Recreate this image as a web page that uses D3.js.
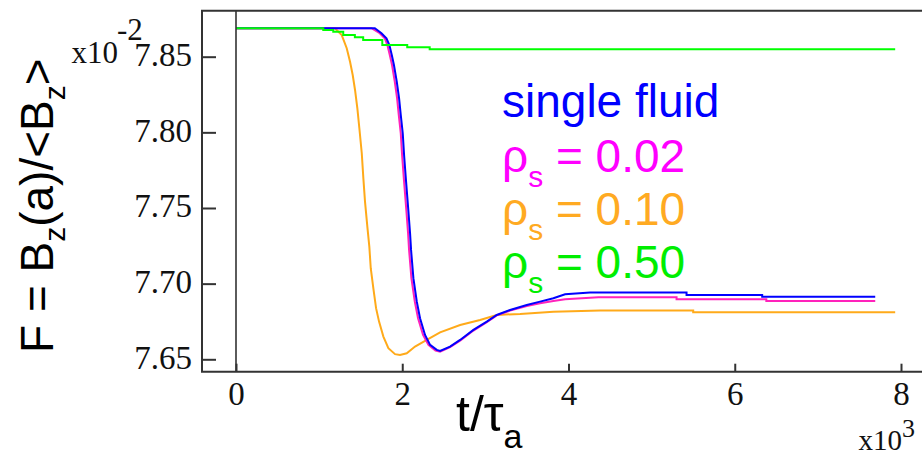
<!DOCTYPE html>
<html>
<head>
<meta charset="utf-8">
<script src="https://cdn.jsdelivr.net/npm/d3@7/dist/d3.min.js"></script>
<style>
  html, body { margin: 0; padding: 0; background: #fff; }
  svg { display: block; }
</style>
</head>
<body>
<svg id="chart" width="922" height="457"></svg>
<script>
// Time axis in units of 10^3 tau_a, flux ratio F in units of 10^-2
const xTicks = [0, 2, 4, 6, 8];
const yTicks = [7.65, 7.70, 7.75, 7.80, 7.85];

// single fluid
const tSingle = [0, 1.67, 1.75, 1.81, 1.845, 1.874, 1.90, 1.934, 1.962, 1.982,
  2.006, 2.022, 2.046, 2.073, 2.094, 2.106, 2.134, 2.175, 2.214, 2.274,
  2.335, 2.415, 2.455, 2.575, 2.696, 2.856, 3.017, 3.137, 3.297, 3.498,
  3.658, 3.818, 3.959, 4.26, 5.42, 5.42, 6.33, 6.33, 7.69];
const fSingle = [7.8688, 7.8688, 7.8655, 7.8622, 7.8577, 7.8511, 7.8445, 7.8335, 7.8225, 7.8115,
  7.7994, 7.7850, 7.7674, 7.7487, 7.7333, 7.7223, 7.7036, 7.6881, 7.6771, 7.6661,
  7.6595, 7.6562, 7.6555, 7.6584, 7.6628, 7.6694, 7.6749, 7.6793, 7.6826, 7.6859,
  7.6881, 7.6904, 7.6930, 7.6941, 7.6941, 7.6925, 7.6925, 7.6914, 7.6914];

// rho_s = 0.02
const tRho002 = [0, 1.63, 1.729, 1.789, 1.821, 1.850, 1.877, 1.910, 1.938, 1.958,
  1.982, 1.998, 2.022, 2.049, 2.070, 2.082, 2.110, 2.151, 2.190, 2.250,
  2.315, 2.40, 2.455, 2.575, 2.70, 2.856, 3.017, 3.137, 3.297, 3.498,
  3.658, 3.818, 3.96, 4.36, 5.30, 5.30, 6.38, 6.38, 7.69];
const fRho002 = [7.8688, 7.8688, 7.8655, 7.8622, 7.8577, 7.8511, 7.8445, 7.8335, 7.8225, 7.8115,
  7.7994, 7.7850, 7.7674, 7.7487, 7.7333, 7.7223, 7.7036, 7.6881, 7.6771, 7.6661,
  7.6595, 7.6558, 7.6550, 7.6580, 7.6625, 7.6690, 7.6745, 7.6790, 7.6822, 7.6852,
  7.6870, 7.6885, 7.6897, 7.6910, 7.6910, 7.6897, 7.6897, 7.6886, 7.6886];

// rho_s = 0.10
const tRho010 = [0, 1.19, 1.272, 1.332, 1.372, 1.404, 1.432, 1.460, 1.484, 1.513,
  1.532, 1.552, 1.580, 1.604, 1.621, 1.652, 1.685, 1.721, 1.773, 1.833,
  1.913, 1.973, 2.054, 2.154, 2.295, 2.455, 2.696, 2.936, 3.137, 3.418,
  3.818, 4.38, 5.50, 5.50, 7.93];
const fRho010 = [7.8688, 7.8688, 7.8643, 7.8556, 7.8467, 7.8379, 7.8280, 7.8159, 7.8027, 7.7862,
  7.7697, 7.7542, 7.7377, 7.7245, 7.7102, 7.6970, 7.6838, 7.6749, 7.6650, 7.6573,
  7.6534, 7.6529, 7.6540, 7.6584, 7.6628, 7.6678, 7.6727, 7.6760, 7.6793, 7.6800,
  7.6815, 7.6823, 7.6823, 7.6811, 7.6811];

// rho_s = 0.50 (stepwise)
const tRho050 = [0, 1.05, 1.17, 1.29, 1.43, 1.53, 1.76, 2.06, 2.33, 7.93];
const fRho050 = [7.8688, 7.8677, 7.8665, 7.8643, 7.8628, 7.8610, 7.8577, 7.8562, 7.8549, 7.8549];

const seriesNames = ["single fluid", "0.02", "0.10", "0.50"];
const curveColors = ["#0000ff", "#ff22bb", "#ffaa1a", "#00ff00"];
const textColors = ["#0000ff", "#ff00ff", "#ffaa22", "#00ee00"];

const svg = d3.select("#chart");

const x = d3.scaleLinear().domain([0, 8]).range([236, 901]);
const y = d3.scaleLinear().domain([7.6418, 7.8804]).range([371.7, 10.7]);

const frameLeft = 202, frameTop = 10.7, frameBottom = 371.7, frameRight = 940;

// Curves
const line = d3.line().x(d => x(d[0])).y(d => y(d[1]));
const stepLine = d3.line().x(d => x(d[0])).y(d => y(d[1])).curve(d3.curveStepAfter);

const zipSeries = (t, f) => t.map((v, i) => [v, f[i]]);
const series = [
  { data: zipSeries(tRho010, fRho010), color: curveColors[2], gen: line },
  { data: zipSeries(tRho002, fRho002), color: curveColors[1], gen: line },
  { data: zipSeries(tSingle, fSingle), color: curveColors[0], gen: line },
  { data: zipSeries(tRho050, fRho050), color: curveColors[3], gen: stepLine }
];

svg.append("g").selectAll("path").data(series).join("path")
  .attr("d", d => d.gen(d.data))
  .attr("fill", "none")
  .attr("stroke", d => d.color)
  .attr("stroke-width", 2)
  .attr("stroke-linejoin", "miter");

// Zero line
svg.append("line")
  .attr("x1", x(0)).attr("x2", x(0))
  .attr("y1", frameTop).attr("y2", frameBottom)
  .attr("stroke", "#333").attr("stroke-width", 1.6);

// Frame
svg.append("path")
  .attr("d", `M${frameRight},${frameTop}H${frameLeft}V${frameBottom}H${frameRight}`)
  .attr("fill", "none").attr("stroke", "#333").attr("stroke-width", 2);

// Axes
const tickFont = "'Liberation Serif', 'Times New Roman', serif";

const yAxis = d3.axisLeft(y).tickValues(yTicks).tickFormat(d3.format(".2f"))
  .tickSizeInner(-14).tickSizeOuter(0).tickPadding(10);
const gy = svg.append("g").attr("transform", `translate(${frameLeft},0)`).call(yAxis);
gy.select(".domain").remove();
gy.selectAll(".tick line").attr("stroke", "#333").attr("stroke-width", 2);
gy.selectAll(".tick text").attr("font-family", tickFont).attr("font-size", 33)
  .attr("fill", "#111").attr("dy", "0.27em");

const xAxis = d3.axisBottom(x).tickValues(xTicks).tickFormat(d3.format("d"))
  .tickSizeInner(-8).tickSizeOuter(0).tickPadding(10);
const gx = svg.append("g").attr("transform", `translate(0,${frameBottom})`).call(xAxis);
gx.select(".domain").remove();
gx.selectAll(".tick line").attr("stroke", "#333").attr("stroke-width", 2);
gx.selectAll(".tick text").attr("font-family", tickFont).attr("font-size", 33)
  .attr("fill", "#111");

// Axis multipliers
svg.append("text").attr("font-family", tickFont).attr("fill", "#111")
  .attr("x", 118).attr("y", 63).attr("text-anchor", "end")
  .attr("font-size", 31).text("x10");
svg.append("text").attr("font-family", tickFont).attr("fill", "#111")
  .attr("x", 117).attr("y", 40).attr("font-size", 31).text("-2");

svg.append("text").attr("font-family", tickFont).attr("fill", "#111")
  .attr("x", 902).attr("y", 450).attr("text-anchor", "end").attr("font-size", 29).text("x10");
svg.append("text").attr("font-family", tickFont).attr("fill", "#111")
  .attr("x", 902).attr("y", 437).attr("font-size", 26).text("3");

// Axis titles
const sans = "'Liberation Sans', Arial, sans-serif";
const yTitle = svg.append("text")
  .attr("transform", "translate(53,353) rotate(-90)")
  .attr("font-family", sans).attr("font-size", 46).attr("fill", "#000");
yTitle.append("tspan").text("F = B");
yTitle.append("tspan").attr("font-size", 30).attr("dy", 12).text("z");
yTitle.append("tspan").attr("dy", -12).text("(a)/<B");
yTitle.append("tspan").attr("font-size", 30).attr("dy", 12).text("z");
yTitle.append("tspan").attr("dy", -12).text(">");

const xTitle = svg.append("text")
  .attr("x", 456).attr("y", 431)
  .attr("font-family", sans).attr("font-size", 50).attr("fill", "#000");
xTitle.append("tspan").text("t/τ");
xTitle.append("tspan").attr("font-size", 34).attr("dy", 17).text("a");

// Legend
const legendX = 502;
const legendY = [117, 171.5, 225, 278.3];
seriesNames.forEach((name, i) => {
  const t = svg.append("text").attr("x", legendX).attr("y", legendY[i])
    .attr("font-family", sans).attr("font-size", 46).attr("fill", textColors[i]);
  if (i === 0) {
    t.text(name);
  } else {
    t.append("tspan").text("ρ");
    t.append("tspan").attr("font-size", 30).attr("dy", 15).text("s");
    t.append("tspan").attr("dy", -15).text(" = " + name);
  }
});
</script>
</body>
</html>
